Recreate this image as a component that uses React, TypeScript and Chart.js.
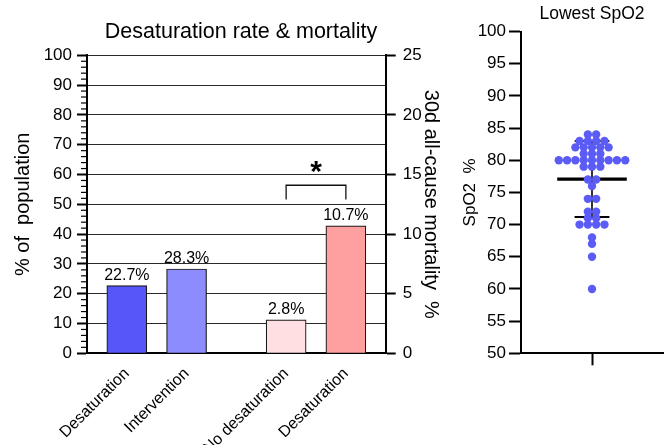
import React, { useEffect, useRef } from 'react';
import { Chart, registerables } from 'chart.js';

Chart.register(...registerables);

const FONT = '"Liberation Sans", Arial, Helvetica, sans-serif';
Chart.defaults.font.family = FONT;
Chart.defaults.color = '#000';

// ---------- data: left panel ----------
const barLabels = ['Desaturation', 'Intervention', 'No desaturation', 'Desaturation'];
const rateValues = [22.7, 28.3]; // % of population (left axis)
const mortalityValues = [2.8, 10.7]; // 30d all-cause mortality % (right axis)
const leftAxisMax = 100;
const leftAxisStep = 10;
const rightAxisMax = 25;
const rightAxisStep = 5;
const bracketLevels = [12.9, 14.1]; // mortality % units: leg bottom, bracket top
const asteriskLevel = 15.65;
const significanceMark = '*';

// ---------- data: right panel ----------
const spo2Values = [
  84, 84,
  83, 83, 83, 83,
  82, 82, 82, 82, 82,
  81, 81, 81,
  80, 80, 80, 80, 80, 80, 80, 80, 80,
  79, 79, 79,
  77, 77,
  76,
  74, 74,
  72, 72,
  71, 71,
  70, 70, 70, 70,
  68,
  67,
  65,
  60,
];
const spo2Min = 50;
const spo2Max = 100;
const spo2Step = 5;

// ---------- layout / style ----------
const W1 = 482;
const H1 = 480;
const PLOT_LEFT = 87;
const PLOT_RIGHT = 385.7;
const PLOT_BOTTOM = 353.3;
const SLOT_POSITIONS = [2 / 3, 5 / 3, 10 / 3, 13 / 3]; // bar slots on a 0..5 axis
const SLOT_MAX = 5;
const barColors = ['#5757F9', '#8C8CFE', '#FFDFE2', '#FFA0A0'];

const W2 = 240;
const H2 = 445;
const LEFT2 = 440;
const DOT_SPACING = 0.117; // x units between neighbouring dots
const MEAN_HALF = 0.49;
const CAP_HALF = 0.245;
const DOT_COLOR = '#5B5BF6';

function BarPanel() {
  const ref = useRef<HTMLCanvasElement>(null);
  useEffect(() => {
    const canvas = ref.current!;
    const minorTicks = {
      id: 'minorTicks',
      afterDraw(chart: any) {
        const s = chart.scales.yL;
        const ctx = chart.ctx;
        ctx.save();
        ctx.strokeStyle = '#000';
        ctx.lineWidth = 1.2;
        for (let v = 0; v <= leftAxisMax; v += 2) {
          if (v % leftAxisStep === 0) continue;
          const y = s.getPixelForValue(v);
          ctx.beginPath();
          ctx.moveTo(s.right - 6, y);
          ctx.lineTo(s.right, y);
          ctx.stroke();
        }
        ctx.restore();
      },
    };
    const valueLabels = {
      id: 'valueLabels',
      afterDatasetsDraw(chart: any) {
        const ctx = chart.ctx;
        ctx.save();
        ctx.font = `16px ${FONT}`;
        ctx.fillStyle = '#000';
        ctx.textAlign = 'center';
        ctx.textBaseline = 'alphabetic';
        chart.data.datasets.forEach((ds: any, di: number) => {
          if (ds.type !== 'bar') return;
          const meta = chart.getDatasetMeta(di);
          meta.data.forEach((el: any, i: number) => {
            const v = ds.data[i].y;
            ctx.fillText(v.toFixed(1) + '%', el.x, el.y - 5.5);
          });
        });
        // significance asterisk
        const xs = chart.scales.x;
        const yr = chart.scales.yR;
        const cx = (xs.getPixelForValue(SLOT_POSITIONS[2]) + xs.getPixelForValue(SLOT_POSITIONS[3])) / 2;
        const cy = yr.getPixelForValue(asteriskLevel);
        ctx.font = `bold 30px ${FONT}`;
        const m = ctx.measureText(significanceMark);
        const yb = cy + (m.actualBoundingBoxAscent - m.actualBoundingBoxDescent) / 2;
        ctx.fillText(significanceMark, cx, yb);
        ctx.restore();
      },
    };

    const chart = new Chart(canvas, {
      type: 'bar',
      data: {
        datasets: [
          {
            type: 'bar',
            yAxisID: 'yL',
            data: rateValues.map((v, i) => ({ x: SLOT_POSITIONS[i], y: v })),
            backgroundColor: barColors.slice(0, 2),
            borderColor: '#1a1a1a',
            borderWidth: 1.2,
            barThickness: 40,
            grouped: false,
          } as any,
          {
            type: 'bar',
            yAxisID: 'yR',
            data: mortalityValues.map((v, i) => ({ x: SLOT_POSITIONS[i + 2], y: v })),
            backgroundColor: barColors.slice(2, 4),
            borderColor: '#1a1a1a',
            borderWidth: 1.2,
            barThickness: 40,
            grouped: false,
          } as any,
          {
            type: 'line',
            yAxisID: 'yR',
            data: [
              { x: SLOT_POSITIONS[2], y: bracketLevels[0] },
              { x: SLOT_POSITIONS[2], y: bracketLevels[1] },
              { x: SLOT_POSITIONS[3], y: bracketLevels[1] },
              { x: SLOT_POSITIONS[3], y: bracketLevels[0] },
            ],
            borderColor: '#111',
            borderWidth: 1.3,
            pointRadius: 0,
            fill: false,
            tension: 0,
          } as any,
        ],
      },
      options: {
        animation: false,
        responsive: false,
        devicePixelRatio: 1,
        events: [],
        layout: { padding: 0 },
        plugins: {
          legend: { display: false },
          tooltip: { enabled: false },
          title: {
            display: true,
            text: 'Desaturation rate & mortality',
            color: '#000',
            font: { size: 21.5, weight: 'normal' },
            padding: { top: 19, bottom: 10.5 },
          },
        },
        scales: {
          x: {
            type: 'linear',
            position: 'bottom',
            min: 0,
            max: SLOT_MAX,
            offset: false,
            grid: { display: false, drawTicks: false, offset: false },
            border: { display: true, color: '#000', width: 2 },
            ticks: {
              autoSkip: false,
              minRotation: 45,
              maxRotation: 45,
              padding: 11,
              color: '#000',
              font: { size: 16 },
              callback: (_v: any, i: number) => barLabels[i],
            },
            afterBuildTicks: (s: any) => {
              s.ticks = SLOT_POSITIONS.map((v) => ({ value: v }));
            },
            afterFit: (s: any) => {
              s.height = H1 - PLOT_BOTTOM;
            },
          } as any,
          yL: {
            type: 'linear',
            position: 'left',
            min: 0,
            max: leftAxisMax,
            ticks: { stepSize: leftAxisStep, color: '#000', font: { size: 17 }, padding: 5 },
            grid: { color: '#2a2a2a', lineWidth: 1, tickLength: 10, tickColor: '#000', tickWidth: 2 },
            border: { display: true, color: '#000', width: 2 },
            title: {
              display: true,
              text: '% of  population',
              color: '#000',
              font: { size: 20 },
              padding: { top: 11, bottom: 0 },
            },
            afterFit: (s: any) => {
              s.width = PLOT_LEFT;
            },
          } as any,
          yR: {
            type: 'linear',
            position: 'right',
            min: 0,
            max: rightAxisMax,
            ticks: { stepSize: rightAxisStep, color: '#000', font: { size: 17 }, padding: 7 },
            grid: { drawOnChartArea: false, tickLength: 10, tickColor: '#000', tickWidth: 2 },
            border: { display: true, color: '#000', width: 2 },
            title: {
              display: true,
              text: '30d all-cause mortality  %',
              color: '#000',
              font: { size: 20 },
              padding: { top: 39, bottom: 0 },
            },
            afterFit: (s: any) => {
              s.width = W1 - PLOT_RIGHT;
            },
          } as any,
        },
      },
      plugins: [minorTicks, valueLabels],
    } as any);
    return () => chart.destroy();
  }, []);
  return (
    <canvas
      ref={ref}
      width={W1}
      height={H1}
      style={{ position: 'absolute', left: 0, top: 0, width: W1, height: H1, display: 'block' }}
    />
  );
}

function SwarmPanel() {
  const ref = useRef<HTMLCanvasElement>(null);
  useEffect(() => {
    const canvas = ref.current!;
    // bee-swarm layout: spread equal values side by side
    const counts = new Map<number, number>();
    spo2Values.forEach((v) => counts.set(v, (counts.get(v) || 0) + 1));
    const seen = new Map<number, number>();
    const points = spo2Values.map((v) => {
      const n = counts.get(v)!;
      const k = seen.get(v) || 0;
      seen.set(v, k + 1);
      return { x: (k - (n - 1) / 2) * DOT_SPACING, y: v };
    });
    const n = spo2Values.length;
    const mean = spo2Values.reduce((a, b) => a + b, 0) / n;
    const sd = Math.sqrt(spo2Values.reduce((a, b) => a + (b - mean) * (b - mean), 0) / (n - 1));
    const lineDs = (data: any[], width: number) => ({
      type: 'scatter',
      data,
      showLine: true,
      borderColor: '#000',
      borderWidth: width,
      pointRadius: 0,
      fill: false,
    });

    const chart = new Chart(canvas, {
      type: 'scatter',
      data: {
        datasets: [
          {
            type: 'scatter',
            data: points,
            backgroundColor: DOT_COLOR,
            borderWidth: 0,
            pointRadius: 4.2,
          } as any,
          lineDs([{ x: -MEAN_HALF, y: mean }, { x: MEAN_HALF, y: mean }], 3.2),
          lineDs([{ x: 0, y: mean - sd }, { x: 0, y: mean + sd }], 1.6),
          lineDs([{ x: -CAP_HALF, y: mean + sd }, { x: CAP_HALF, y: mean + sd }], 1.8),
          lineDs([{ x: -CAP_HALF, y: mean - sd }, { x: CAP_HALF, y: mean - sd }], 1.8),
        ] as any,
      },
      options: {
        animation: false,
        responsive: false,
        devicePixelRatio: 1,
        events: [],
        layout: { padding: { left: 0, right: 17, top: 0, bottom: 0 } },
        plugins: {
          legend: { display: false },
          tooltip: { enabled: false },
          title: {
            display: true,
            text: 'Lowest SpO2',
            color: '#000',
            fullSize: false,
            font: { size: 17.5, weight: 'normal' },
            padding: { top: 4, bottom: 6.5 },
          },
        },
        scales: {
          x: {
            type: 'linear',
            min: -1,
            max: 1,
            grid: { display: true, drawOnChartArea: false, drawTicks: true, tickLength: 12, tickColor: '#000', tickWidth: 2 },
            border: { display: true, color: '#000', width: 2 },
            ticks: { callback: () => '', padding: 0 },
            afterBuildTicks: (s: any) => {
              s.ticks = [{ value: 0 }];
            },
            afterFit: (s: any) => {
              s.height = H2 - PLOT_BOTTOM;
            },
          } as any,
          y: {
            type: 'linear',
            min: spo2Min,
            max: spo2Max,
            ticks: { stepSize: spo2Step, color: '#000', font: { size: 17 }, padding: 3 },
            grid: { drawOnChartArea: false, tickLength: 12, tickColor: '#000', tickWidth: 2 },
            border: { display: true, color: '#000', width: 2 },
            title: {
              display: true,
              text: 'SpO2  %',
              color: '#000',
              font: { size: 17 },
              padding: { top: 20, bottom: 0 },
            },
            afterFit: (s: any) => {
              s.width = 521 - LEFT2;
            },
          } as any,
        },
      },
    } as any);
    return () => chart.destroy();
  }, []);
  return (
    <canvas
      ref={ref}
      width={W2}
      height={H2}
      style={{ position: 'absolute', left: LEFT2, top: 0, width: W2, height: H2, display: 'block' }}
    />
  );
}

export default function App() {
  return (
    <div
      style={{
        position: 'absolute',
        left: 0,
        top: 0,
        width: 664,
        height: 445,
        overflow: 'hidden',
        background: '#fff',
      }}
    >
      <BarPanel />
      <SwarmPanel />
    </div>
  );
}
